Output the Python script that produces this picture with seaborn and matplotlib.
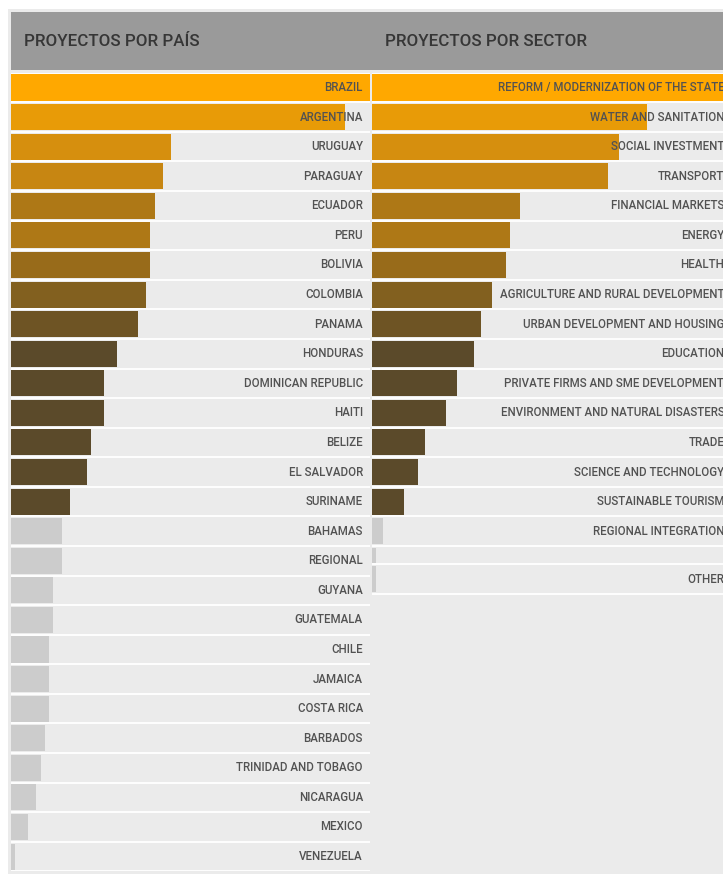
import matplotlib
matplotlib.use("Agg")
import matplotlib.pyplot as plt
import seaborn as sns
import pandas as pd
from matplotlib.patches import Rectangle

# ---- data -------------------------------------------------------------
paises = [
    "BRAZIL", "ARGENTINA", "URUGUAY", "PARAGUAY", "ECUADOR", "PERU", "BOLIVIA",
    "COLOMBIA", "PANAMA", "HONDURAS", "DOMINICAN REPUBLIC", "HAITI", "BELIZE",
    "EL SALVADOR", "SURINAME", "BAHAMAS", "REGIONAL", "GUYANA", "GUATEMALA",
    "CHILE", "JAMAICA", "COSTA RICA", "BARBADOS", "TRINIDAD AND TOBAGO",
    "NICARAGUA", "MEXICO", "VENEZUELA",
]
proyectos_pais = [85, 79, 38, 36, 34, 33, 33, 32, 30, 25, 22, 22, 19, 18, 14,
                  12, 12, 10, 10, 9, 9, 9, 8, 7, 6, 4, 1]

sectores = [
    "REFORM / MODERNIZATION OF THE STATE", "WATER AND SANITATION",
    "SOCIAL INVESTMENT", "TRANSPORT", "FINANCIAL MARKETS", "ENERGY", "HEALTH",
    "AGRICULTURE AND RURAL DEVELOPMENT", "URBAN DEVELOPMENT AND HOUSING",
    "EDUCATION", "PRIVATE FIRMS AND SME DEVELOPMENT",
    "ENVIRONMENT AND NATURAL DISASTERS", "TRADE", "SCIENCE AND TECHNOLOGY",
    "SUSTAINABLE TOURISM", "REGIONAL INTEGRATION", "", "OTHER",
]
proyectos_sector = [102, 78, 70, 67, 42, 39, 38, 34, 31, 29, 24, 21, 15, 13,
                    9, 3, 1, 1]

titulos = ["PROYECTOS POR PAÍS", "PROYECTOS POR SECTOR"]

# ---- style ------------------------------------------------------------
sns.set_theme(style="white")
plt.rcParams["font.family"] = ["Roboto", "DejaVu Sans"]

rampa = ["#FFA800", "#E89B07", "#D68F0E", "#C78612", "#AE7816", "#AE7816",
         "#986B1A", "#82601F", "#6E5424"] + ["#5B4A2A"] * 6
gris_barra = "#CCCCCC"
fondo_fila = "#EBEBEB"
gris_cabecera = "#9A9A9A"
color_texto = "#525252"


def colores(n):
    return [rampa[i] if i < len(rampa) else gris_barra for i in range(n)]


W, H = 723, 874
fig = plt.figure(figsize=(W / 100, H / 100), dpi=100)
fig.patch.set_facecolor("white")


def rect_px(x, y, w, h, color):
    """Rectangle in figure pixel coordinates (origin top-left), behind the axes."""
    r = Rectangle((x / W, 1 - (y + h) / H), w / W, h / H,
                  transform=fig.transFigure, lw=0, facecolor=color, zorder=-10)
    fig.patches.append(r)


rect_px(8, 9, W - 8, H - 9, fondo_fila)
rect_px(11, 12, W - 11, 58, gris_cabecera)

for x0, titulo in zip((24, 385), titulos):
    fig.text(x0 / W, 1 - 42 / H, titulo, fontsize=12.2, color="#363636",
             va="center", ha="left", fontweight="medium")

top, pitch = 72.7, 29.58
n_rows = len(paises)
ax_bottom = 1 - (top + n_rows * pitch) / H
ax_height = n_rows * pitch / H
panel_w = 359

ax1 = fig.add_axes([11 / W, ax_bottom, panel_w / W, ax_height])
ax2 = fig.add_axes([372.3 / W, ax_bottom, panel_w / W, ax_height])

etiqueta = dict(ha="right", va="center", fontsize=8.3, color=color_texto,
                fontweight="medium", zorder=5)

# ---- left panel: projects by country ----------------------------------
df_p = pd.DataFrame({"pais": paises, "n": proyectos_pais})
sns.barplot(data=df_p, x="n", y="pais", hue="pais", palette=colores(len(paises)),
            legend=False, orient="h", width=0.88, saturation=1, ax=ax1,
            linewidth=0, zorder=3)
ax1.set_xlim(0, max(proyectos_pais))
ax1.set_ylim(n_rows - 0.5, -0.5)
for k in range(n_rows + 1):
    ax1.axhline(k - 0.5, color="white", lw=1.3, zorder=2)
for i, nombre in enumerate(paises):
    ax1.text(1 - 7 / panel_w, i, nombre, transform=ax1.get_yaxis_transform(),
             **etiqueta)

# ---- right panel: projects by sector ----------------------------------
alto_fila = [1.0] * len(sectores)
alto_fila[16] = 0.62
bordes = [-0.5]
for h in alto_fila:
    bordes.append(bordes[-1] + h)
centros = [(a + b) / 2 for a, b in zip(bordes[:-1], bordes[1:])]
altos_barra = [h - 0.12 for h in alto_fila]

ax2.barh(centros, proyectos_sector, height=altos_barra,
         color=colores(len(sectores)), linewidth=0, zorder=3)
ax2.set_xlim(0, max(proyectos_sector))
ax2.set_ylim(n_rows - 0.5, -0.5)
for b in bordes:
    ax2.axhline(b, color="white", lw=1.3, zorder=2)
for c, nombre in zip(centros, sectores):
    ax2.text(1 - 7 / panel_w, c, nombre, transform=ax2.get_yaxis_transform(),
             **etiqueta)

for ax in (ax1, ax2):
    ax.set_facecolor("none")
    ax.set_xlabel("")
    ax.set_ylabel("")
    ax.set_xticks([])
    ax.set_yticks([])
    for s in ax.spines.values():
        s.set_visible(False)

fig.savefig("out.png", dpi=100)
